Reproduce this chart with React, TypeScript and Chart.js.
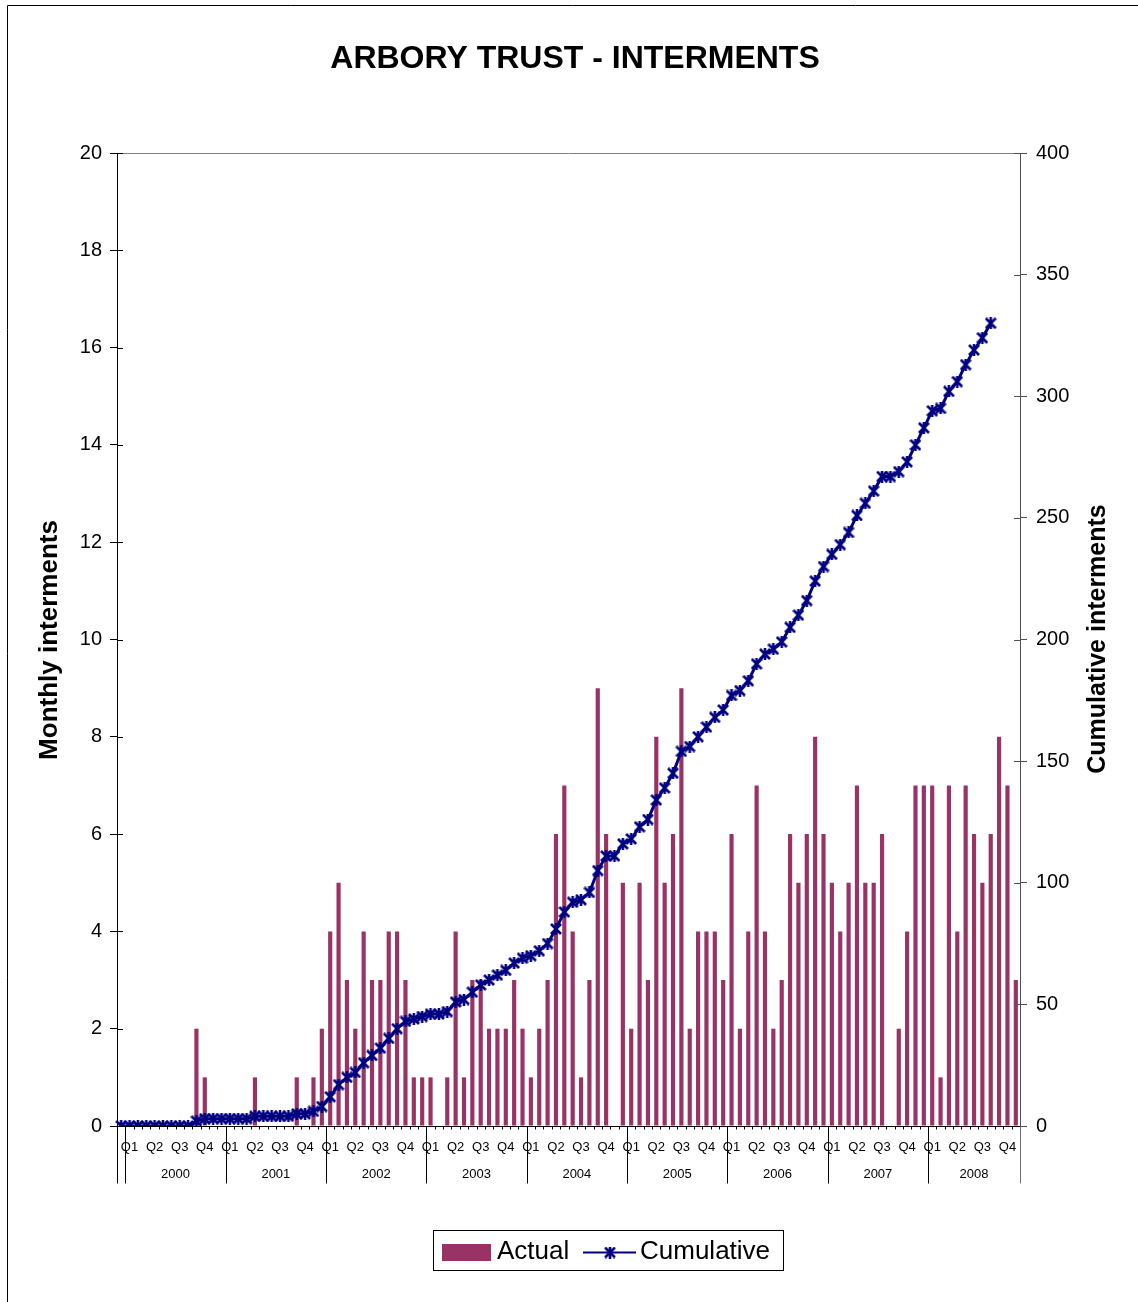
import React, { useEffect, useRef } from "react";
import { Chart, registerables } from "chart.js";

Chart.register(...registerables);

// ---- data ----
const years = ["2000", "2001", "2002", "2003", "2004", "2005", "2006", "2007", "2008"];
const months = ["Jan", "Feb", "Mar", "Apr", "May", "Jun", "Jul", "Aug", "Sep", "Oct", "Nov", "Dec"];
const quarterLabels = ["Q1", "Q2", "Q3", "Q4"];
const leadInCategory = ""; // one unlabeled category before Jan 2000
const monthsShownInLastYear = 11;

// monthly interments (first value = lead-in category)
const actual = [
  0,
  0, 0, 0, 0, 0, 0, 0, 0, 2, 1, 0, 0, // 2000
  0, 0, 0, 1, 0, 0, 0, 0, 1, 0, 1, 2, // 2001
  4, 5, 3, 2, 4, 3, 3, 4, 4, 3, 1, 1, // 2002
  1, 0, 1, 4, 1, 3, 3, 2, 2, 2, 3, 2, // 2003
  1, 2, 3, 6, 7, 4, 1, 3, 9, 6, 0, 5, // 2004
  2, 5, 3, 8, 5, 6, 9, 2, 4, 4, 4, 3, // 2005
  6, 2, 4, 7, 4, 2, 3, 6, 5, 6, 8, 6, // 2006
  5, 4, 5, 7, 5, 5, 6, 0, 2, 4, 7, 7, // 2007
  7, 1, 7, 4, 7, 6, 5, 6, 8, 7, 3, // 2008 (Jan-Nov)
];

// cumulative interments (line ends Aug 2008)
const cumulative: (number | null)[] = [
  0,
  0, 0, 0, 0, 0, 0, 0, 0, 2, 3, 3, 3, // 2000
  3, 3, 3, 4, 4, 4, 4, 4, 5, 5, 6, 8, // 2001
  12, 17, 20, 22, 26, 29, 32, 36, 40, 43, 44, 45, // 2002
  46, 46, 47, 51, 52, 55, 58, 60, 62, 64, 67, 69, // 2003
  70, 72, 75, 81, 88, 92, 93, 96, 105, 111, 111, 116, // 2004
  118, 123, 126, 134, 139, 145, 154, 156, 160, 164, 168, 171, // 2005
  177, 179, 183, 190, 194, 196, 199, 205, 210, 216, 224, 230, // 2006
  235, 239, 244, 251, 256, 261, 267, 267, 269, 273, 280, 287, // 2007
  294, 295, 302, 306, 313, 319, 324, 330, null, null, null, // 2008
];

const categories: string[] = [leadInCategory];
years.forEach((y, yi) => {
  const n = yi === years.length - 1 ? monthsShownInLastYear : 12;
  for (let m = 0; m < n; m++) categories.push(`${months[m]} ${y}`);
});

const FONT = '"Liberation Sans", Arial, Helvetica, sans-serif';
const BAR_COLOR = "#993366";
const LINE_COLOR = "#000080";

function makeMarker(): HTMLCanvasElement {
  const c = document.createElement("canvas");
  const s = 12;
  c.width = s;
  c.height = s;
  const g = c.getContext("2d")!;
  g.strokeStyle = LINE_COLOR;
  g.lineWidth = 2.6;
  g.lineCap = "butt";
  g.beginPath();
  g.moveTo(1, 1);
  g.lineTo(s - 1, s - 1);
  g.moveTo(s - 1, 1);
  g.lineTo(1, s - 1);
  g.moveTo(s / 2, 0);
  g.lineTo(s / 2, s);
  g.stroke();
  return c;
}

export default function App() {
  const ref = useRef<HTMLCanvasElement | null>(null);

  useEffect(() => {
    if (!ref.current) return;
    const marker = makeMarker();

    const decor = {
      id: "decor",
      afterDraw(chart: any) {
        const ctx = chart.ctx as CanvasRenderingContext2D;
        const ca = chart.chartArea;
        const xs = chart.scales.x;
        const ys = chart.scales.y;
        const ys1 = chart.scales.y1;
        ctx.save();

        // outer frame
        ctx.strokeStyle = "#000";
        ctx.lineWidth = 1;
        ctx.beginPath();
        ctx.moveTo(7.5, 1302);
        ctx.lineTo(7.5, 5.5);
        ctx.lineTo(1138, 5.5);
        ctx.stroke();

        // plot area top border
        ctx.strokeStyle = "#808080";
        ctx.beginPath();
        ctx.moveTo(ca.left, Math.round(ca.top) + 0.5);
        ctx.lineTo(ca.right, Math.round(ca.top) + 0.5);
        ctx.stroke();

        // inside halves of cross ticks
        ctx.strokeStyle = "#000";
        ctx.beginPath();
        ys.ticks.forEach((t: any) => {
          const py = Math.round(ys.getPixelForValue(t.value)) + 0.5;
          ctx.moveTo(ca.left, py);
          ctx.lineTo(ca.left + 6, py);
        });
        ctx.stroke();
        ctx.strokeStyle = "#505050";
        ctx.beginPath();
        ys1.ticks.forEach((t: any) => {
          const py = Math.round(ys1.getPixelForValue(t.value)) + 0.5;
          ctx.moveTo(ca.right - 6, py);
          ctx.lineTo(ca.right, py);
        });
        ctx.stroke();

        // x axis line
        const bottom = Math.round(ca.bottom) + 0.5;
        ctx.strokeStyle = "#000";
        ctx.beginPath();
        ctx.moveTo(ca.left, bottom);
        ctx.lineTo(ca.right, bottom);
        ctx.stroke();

        // category boundary ticks
        const n = categories.length;
        const w = (ca.right - ca.left) / n;
        const edge = (i: number) => xs.getPixelForValue(i) - w / 2;
        ctx.beginPath();
        for (let i = 0; i <= n; i++) {
          const px = Math.round(i === n ? xs.getPixelForValue(n - 1) + w / 2 : edge(i)) + 0.5;
          ctx.moveTo(px, bottom);
          ctx.lineTo(px, bottom + 3);
        }
        ctx.stroke();

        // year dividers
        const bounds: number[] = [0, 1];
        years.forEach((_, yi) => {
          const end = Math.min(1 + 12 * (yi + 1), n);
          bounds.push(end);
        });
        const pxOfBoundary = (i: number) =>
          i >= n ? xs.getPixelForValue(n - 1) + w / 2 : edge(i);
        bounds.forEach((b) => {
          const px = Math.round(pxOfBoundary(b)) + 0.5;
          ctx.strokeStyle = b >= n ? "#707070" : "#000";
          ctx.beginPath();
          ctx.moveTo(px, bottom);
          ctx.lineTo(px, bottom + 57);
          ctx.stroke();
        });

        // quarter and year labels
        ctx.fillStyle = "#000";
        ctx.textAlign = "center";
        ctx.textBaseline = "middle";
        ctx.font = `13px ${FONT}`;
        years.forEach((y, yi) => {
          for (let q = 0; q < 4; q++) {
            const idx = 1 + 12 * yi + 3 * q;
            if (idx < n) ctx.fillText(quarterLabels[q], xs.getPixelForValue(idx), 1147);
          }
          const s = 1 + 12 * yi;
          const e = Math.min(1 + 12 * (yi + 1), n);
          ctx.fillText(y, (pxOfBoundary(s) + pxOfBoundary(e)) / 2, 1174);
        });

        // title
        ctx.font = `bold 32px ${FONT}`;
        ctx.fillText("ARBORY TRUST - INTERMENTS", 575, 59);

        // axis titles
        ctx.font = `bold 26px ${FONT}`;
        ctx.save();
        ctx.translate(50, 640);
        ctx.rotate(-Math.PI / 2);
        ctx.fillText("Monthly interments", 0, 0);
        ctx.restore();
        ctx.font = `bold 25px ${FONT}`;
        ctx.save();
        ctx.translate(1098, 639);
        ctx.rotate(-Math.PI / 2);
        ctx.fillText("Cumulative interments", 0, 0);
        ctx.restore();

        // legend
        ctx.fillStyle = "#fff";
        ctx.fillRect(433.5, 1230.5, 350, 40);
        ctx.strokeStyle = "#000";
        ctx.strokeRect(433.5, 1230.5, 350, 40);
        ctx.fillStyle = BAR_COLOR;
        ctx.fillRect(442, 1244, 49, 17);
        ctx.fillStyle = "#000";
        ctx.textAlign = "left";
        ctx.font = `26px ${FONT}`;
        ctx.fillText("Actual", 497, 1252);
        ctx.strokeStyle = LINE_COLOR;
        ctx.lineWidth = 2;
        ctx.beginPath();
        ctx.moveTo(583, 1252.5);
        ctx.lineTo(636, 1252.5);
        ctx.stroke();
        ctx.drawImage(marker, 610 - 6, 1252.5 - 6);
        ctx.fillText("Cumulative", 640, 1252);

        ctx.restore();
      },
    };

    const chart = new Chart(ref.current, {
      type: "bar",
      data: {
        labels: categories,
        datasets: [
          {
            type: "line",
            label: "Cumulative",
            data: cumulative,
            yAxisID: "y1",
            borderColor: LINE_COLOR,
            backgroundColor: LINE_COLOR,
            borderWidth: 3,
            pointStyle: marker as any,
            pointRadius: 6,
            tension: 0,
            spanGaps: false,
            order: 0,
          } as any,
          {
            type: "bar",
            label: "Actual",
            data: actual,
            yAxisID: "y",
            backgroundColor: BAR_COLOR,
            borderWidth: 0,
            barPercentage: 0.5,
            categoryPercentage: 1,
            order: 1,
          },
        ],
      },
      options: {
        responsive: false,
        maintainAspectRatio: false,
        animation: false,
        layout: { padding: { left: 0, right: 0, top: 153, bottom: 176 } },
        plugins: {
          legend: { display: false },
          tooltip: { enabled: false },
          title: { display: false },
        },
        scales: {
          x: { display: false, offset: true },
          y: {
            position: "left",
            min: 0,
            max: 20,
            ticks: { stepSize: 2, color: "#000", font: { family: FONT, size: 20 }, padding: 8 },
            grid: { display: true, drawOnChartArea: false, drawTicks: true, tickLength: 7, color: "#000" },
            border: { display: true, color: "#000" },
            afterFit: (s: any) => {
              s.width = 117;
            },
          },
          y1: {
            position: "right",
            min: 0,
            max: 400,
            ticks: { stepSize: 50, color: "#000", font: { family: FONT, size: 20 }, padding: 9 },
            grid: { display: true, drawOnChartArea: false, drawTicks: true, tickLength: 7, color: "#505050" },
            border: { display: true, color: "#505050" },
            afterFit: (s: any) => {
              s.width = 118;
            },
          },
        },
      },
      plugins: [decor],
    });
    return () => chart.destroy();
  }, []);

  return (
    <div style={{ position: "absolute", left: 0, top: 0, width: 1138, height: 1302, background: "#fff" }}>
      <canvas ref={ref} width={1138} height={1302} style={{ display: "block", width: 1138, height: 1302 }} />
    </div>
  );
}
